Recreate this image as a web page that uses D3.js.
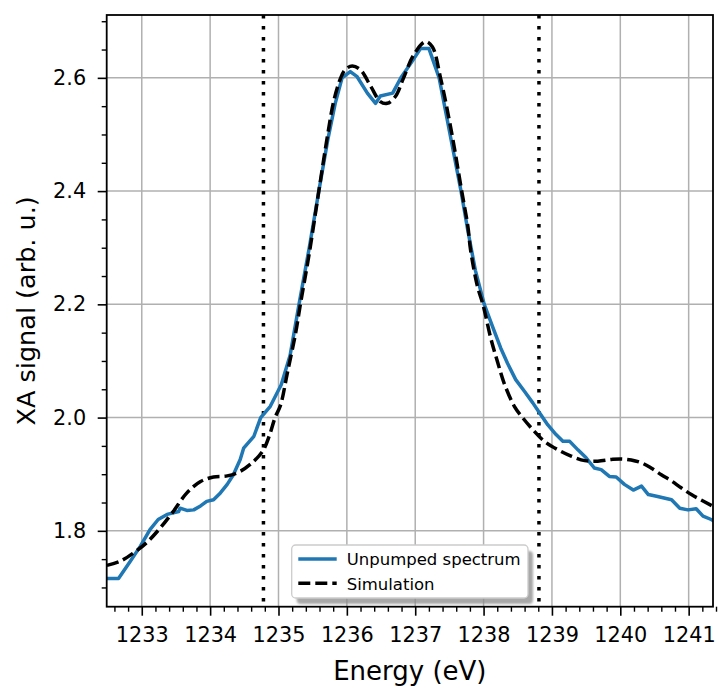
<!DOCTYPE html>
<html>
<head>
<meta charset="utf-8">
<script src="https://cdn.jsdelivr.net/npm/d3@7"></script>
<style>
body { margin: 0; background: #fff; }
text { font-family: "DejaVu Sans", sans-serif; }
</style>
</head>
<body>
<script>
// measured spectrum (blue)
var energyUnpumped = [1232.49, 1232.66, 1232.83, 1232.98, 1233.12, 1233.24, 1233.37, 1233.54, 1233.56, 1233.66,
  1233.76, 1233.86, 1233.95, 1234.05, 1234.15, 1234.25, 1234.34, 1234.44, 1234.49, 1234.64,
  1234.74, 1234.88, 1235.04, 1235.17, 1235.30, 1235.45, 1235.59, 1235.72, 1235.83, 1235.93,
  1236.05, 1236.15, 1236.30, 1236.42, 1236.49, 1236.67, 1236.79, 1236.96, 1237.08, 1237.20,
  1237.35, 1237.51, 1237.67, 1237.77, 1237.88, 1238.01, 1238.13, 1238.25, 1238.35, 1238.47,
  1238.60, 1238.72, 1238.82, 1238.94, 1239.06, 1239.16, 1239.26, 1239.38, 1239.50, 1239.62,
  1239.72, 1239.84, 1239.94, 1240.06, 1240.19, 1240.31, 1240.41, 1240.53, 1240.75, 1240.87,
  1240.99, 1241.11, 1241.21, 1241.33, 1241.40];
var signalUnpumped = [1.716, 1.716, 1.746, 1.773, 1.802, 1.820, 1.829, 1.834, 1.840, 1.836,
  1.837, 1.844, 1.852, 1.855, 1.867, 1.882, 1.899, 1.926, 1.946, 1.967,
  2.000, 2.020, 2.058, 2.110, 2.200, 2.300, 2.400, 2.490, 2.555, 2.600,
  2.611, 2.602, 2.573, 2.555, 2.568, 2.573, 2.600, 2.630, 2.652, 2.652,
  2.600, 2.500, 2.400, 2.330, 2.260, 2.200, 2.161, 2.123, 2.096, 2.067,
  2.046, 2.026, 2.008, 1.987, 1.970, 1.958, 1.958, 1.943, 1.929, 1.911,
  1.908, 1.896, 1.895, 1.882, 1.872, 1.879, 1.864, 1.861, 1.855, 1.840,
  1.837, 1.839, 1.826, 1.820, 1.815];

// simulation (black dashed)
var energySim = [1232.49, 1232.68, 1232.88, 1233.07, 1233.27, 1233.46, 1233.66, 1233.86, 1234.05, 1234.25,
  1234.44, 1234.64, 1234.78, 1234.88, 1234.95, 1235.03, 1235.13, 1235.25, 1235.32, 1235.45,
  1235.59, 1235.72, 1235.81, 1235.91, 1235.98, 1236.08, 1236.20, 1236.35, 1236.49, 1236.59,
  1236.71, 1236.83, 1236.98, 1237.15, 1237.25, 1237.37, 1237.53, 1237.68, 1237.77, 1237.81,
  1237.91, 1237.99, 1238.11, 1238.21, 1238.30, 1238.45, 1238.57, 1238.74, 1238.89, 1239.09,
  1239.28, 1239.48, 1239.67, 1239.87, 1240.01, 1240.16, 1240.31, 1240.45, 1240.60, 1240.75,
  1240.89, 1241.04, 1241.19, 1241.33, 1241.41];
var signalSim = [1.739, 1.746, 1.761, 1.779, 1.805, 1.834, 1.867, 1.887, 1.895, 1.897,
  1.905, 1.923, 1.943, 1.973, 2.000, 2.022, 2.079, 2.149, 2.200, 2.290,
  2.400, 2.500, 2.560, 2.600, 2.615, 2.621, 2.614, 2.585, 2.558, 2.555,
  2.567, 2.600, 2.641, 2.664, 2.655, 2.600, 2.505, 2.400, 2.338, 2.296,
  2.232, 2.200, 2.138, 2.096, 2.061, 2.020, 2.000, 1.976, 1.958, 1.943,
  1.932, 1.924, 1.923, 1.926, 1.927, 1.925, 1.920, 1.911, 1.899, 1.888,
  1.876, 1.864, 1.854, 1.845, 1.840];

var markerEnergies = [1234.78, 1238.81];
var xTicks = [1233, 1234, 1235, 1236, 1237, 1238, 1239, 1240, 1241];
var yTicks = [1.8, 2.0, 2.2, 2.4, 2.6];
var seriesNames = ["Unpumped spectrum", "Simulation"];

function drawChart() {
var W = 719, H = 689;
var pLeft = 106.7, pRight = 713, pTop = 15, pBottom = 606.7;

var x = d3.scaleLinear().domain([1232.487, 1241.356]).range([pLeft, pRight]);
var y = d3.scaleLinear().domain([1.666, 2.711]).range([pBottom, pTop]);

var svg = d3.select("body").append("svg")
    .attr("width", W)
    .attr("height", H);

var defs = svg.append("defs");
defs.append("clipPath").attr("id", "plotclip")
  .append("rect")
    .attr("x", pLeft).attr("y", pTop)
    .attr("width", pRight - pLeft).attr("height", pBottom - pTop);

defs.append("filter").attr("id", "blur")
  .append("feGaussianBlur").attr("stdDeviation", 1.2);

// grid
var grid = svg.append("g").attr("class", "grid");
grid.selectAll(".gx").data(xTicks).enter().append("line")
    .attr("x1", function(d) { return x(d); }).attr("x2", function(d) { return x(d); })
    .attr("y1", pTop).attr("y2", pBottom)
    .attr("stroke", "#b0b0b0").attr("stroke-width", 1.5);
grid.selectAll(".gy").data(yTicks).enter().append("line")
    .attr("y1", function(d) { return y(d); }).attr("y2", function(d) { return y(d); })
    .attr("x1", pLeft).attr("x2", pRight)
    .attr("stroke", "#b0b0b0").attr("stroke-width", 1.5);

var plot = svg.append("g").attr("clip-path", "url(#plotclip)");

// vertical dotted markers
plot.selectAll(".marker").data(markerEnergies).enter().append("line")
    .attr("x1", function(d) { return x(d); }).attr("x2", function(d) { return x(d); })
    .attr("y1", pTop).attr("y2", pBottom)
    .attr("stroke", "#000").attr("stroke-width", 3.5)
    .attr("stroke-dasharray", "3.5,7.5");

var unpumped = energyUnpumped.map(function(e, i) { return [e, signalUnpumped[i]]; });
var sim = energySim.map(function(e, i) { return [e, signalSim[i]]; });

var line = d3.line()
    .x(function(d) { return x(d[0]); })
    .y(function(d) { return y(d[1]); });

plot.append("path")
    .datum(unpumped)
    .attr("d", line)
    .attr("fill", "none")
    .attr("stroke", "#1f77b4")
    .attr("stroke-width", 3.5)
    .attr("stroke-linejoin", "round");

plot.append("path")
    .datum(sim)
    .attr("d", line.curve(d3.curveCatmullRom))
    .attr("fill", "none")
    .attr("stroke", "#000")
    .attr("stroke-width", 3.5)
    .attr("stroke-dasharray", "12,5");

// axes
var xMinor = d3.range(1232.6, 1241.4, 0.2).filter(function(v) { return Math.abs(v - Math.round(v)) > 0.05; });
var yMinor = d3.range(1.7, 2.71, 0.05).filter(function(v) { return Math.abs(v * 5 - Math.round(v * 5)) > 0.05; });

svg.append("g")
    .attr("transform", "translate(0," + pBottom + ")")
    .call(d3.axisBottom(x).tickValues(xMinor).tickSize(5).tickFormat(""))
    .call(function(g) { g.select(".domain").remove(); g.selectAll("line").attr("stroke-width", 1.4); });

svg.append("g")
    .attr("transform", "translate(" + pLeft + ",0)")
    .call(d3.axisLeft(y).tickValues(yMinor).tickSize(5).tickFormat(""))
    .call(function(g) { g.select(".domain").remove(); g.selectAll("line").attr("stroke-width", 1.4); });

svg.append("g")
    .attr("transform", "translate(0," + pBottom + ")")
    .call(d3.axisBottom(x).tickValues(xTicks).tickSize(9).tickPadding(12).tickFormat(d3.format("d")))
    .call(function(g) {
        g.select(".domain").remove();
        g.selectAll("line").attr("stroke-width", 1.6);
        g.selectAll("text").attr("font-size", 20.8).attr("fill", "#000")
          .style("font-family", "DejaVu Sans");
    });

svg.append("g")
    .attr("transform", "translate(" + pLeft + ",0)")
    .call(d3.axisLeft(y).tickValues(yTicks).tickSize(9).tickPadding(11.5).tickFormat(d3.format(".1f")))
    .call(function(g) {
        g.select(".domain").remove();
        g.selectAll("line").attr("stroke-width", 1.6);
        g.selectAll("text").attr("font-size", 20.8).attr("fill", "#000")
          .style("font-family", "DejaVu Sans");
    });

// frame
svg.append("rect")
    .attr("x", pLeft).attr("y", pTop)
    .attr("width", pRight - pLeft).attr("height", pBottom - pTop)
    .attr("fill", "none").attr("stroke", "#000").attr("stroke-width", 1.8);

// axis labels
svg.append("text")
    .attr("x", (pLeft + pRight) / 2).attr("y", 680)
    .attr("text-anchor", "middle")
    .attr("font-size", 26)
    .text("Energy (eV)");

svg.append("text")
    .attr("transform", "translate(35," + ((pTop + pBottom) / 2) + ") rotate(-90)")
    .attr("text-anchor", "middle")
    .attr("font-size", 25.5)
    .text("XA signal (arb. u.)");

// legend
var legend = svg.append("g").attr("class", "legend");
legend.append("rect")
    .attr("x", 296.7).attr("y", 551)
    .attr("width", 236.3).attr("height", 53).attr("rx", 4)
    .attr("fill", "#8c8c8c").attr("opacity", 0.75)
    .attr("filter", "url(#blur)");
legend.append("rect")
    .attr("x", 291.7).attr("y", 545)
    .attr("width", 236.3).attr("height", 53).attr("rx", 4)
    .attr("fill", "#fff").attr("stroke", "#cccccc").attr("stroke-width", 1.3);

var legendStyles = [
    {color: "#1f77b4", dash: null},
    {color: "#000", dash: "12,5"}
];
var legendRows = [559, 583.3];

legend.selectAll(".lline").data(seriesNames).enter().append("line")
    .attr("x1", 298.3).attr("x2", 336.7)
    .attr("y1", function(d, i) { return legendRows[i]; })
    .attr("y2", function(d, i) { return legendRows[i]; })
    .attr("stroke", function(d, i) { return legendStyles[i].color; })
    .attr("stroke-width", 3.5)
    .attr("stroke-dasharray", function(d, i) { return legendStyles[i].dash; });

legend.selectAll(".ltext").data(seriesNames).enter().append("text")
    .attr("x", 346.7)
    .attr("y", function(d, i) { return legendRows[i] + 6.2; })
    .attr("font-size", 16.5)
    .text(function(d) { return d; });
}

drawChart();
</script>
</body>
</html>
